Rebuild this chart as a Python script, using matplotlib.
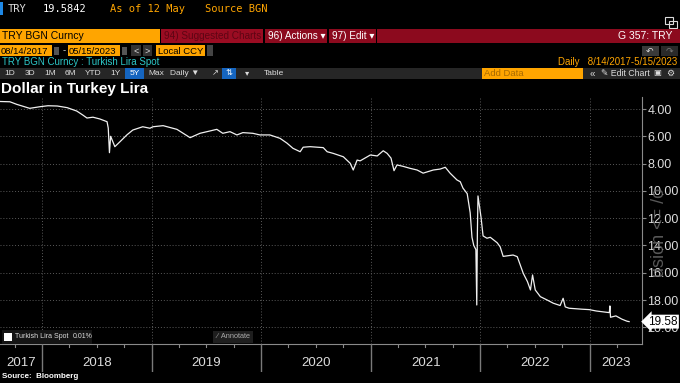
import matplotlib
matplotlib.use("Agg")
import matplotlib.pyplot as plt
from matplotlib.patches import Rectangle
import pandas as pd

plt.rcParams["font.family"] = ["Liberation Sans", "DejaVu Sans"]

# USD/TRY daily spot
dates = [
    "2017-08-14", "2017-09-15", "2017-10-08", "2017-11-20", "2017-12-25",
    "2018-01-20", "2018-02-20", "2018-03-25", "2018-04-26", "2018-05-16",
    "2018-05-30", "2018-06-19", "2018-07-12", "2018-08-05", "2018-08-09",
    "2018-08-13", "2018-08-17", "2018-08-31", "2018-09-17", "2018-10-10",
    "2018-10-30", "2018-12-02", "2018-12-26", "2019-01-05", "2019-02-08",
    "2019-03-26", "2019-05-09", "2019-06-11", "2019-07-14", "2019-08-06",
    "2019-08-26", "2019-09-19", "2019-10-12", "2019-11-01", "2019-12-04",
    "2019-12-28", "2020-01-30", "2020-03-04", "2020-03-27", "2020-04-16",
    "2020-05-10", "2020-05-20", "2020-06-12", "2020-07-26", "2020-08-08",
    "2020-08-28", "2020-10-01", "2020-10-24", "2020-11-03", "2020-11-16",
    "2020-11-26", "2020-12-30", "2021-01-22", "2021-02-11", "2021-02-24",
    "2021-03-09", "2021-03-19", "2021-03-29", "2021-04-18", "2021-05-12",
    "2021-06-04", "2021-06-24", "2021-07-28", "2021-08-20", "2021-09-06",
    "2021-09-22", "2021-10-15", "2021-10-26", "2021-11-04", "2021-11-18",
    "2021-11-28", "2021-12-04", "2021-12-10", "2021-12-17", "2021-12-20",
    "2021-12-22", "2021-12-24", "2022-01-03", "2022-01-10", "2022-01-23",
    "2022-02-03", "2022-02-26", "2022-03-08", "2022-03-18", "2022-04-20",
    "2022-05-04", "2022-05-14", "2022-05-24", "2022-06-07", "2022-06-17",
    "2022-06-24", "2022-07-03", "2022-07-20", "2022-08-12", "2022-09-01",
    "2022-09-24", "2022-10-04", "2022-10-11", "2022-10-24", "2022-12-06",
    "2022-12-30", "2023-01-22", "2023-02-20", "2023-03-07", "2023-03-09",
    "2023-03-11", "2023-03-29", "2023-04-18", "2023-05-05", "2023-05-12",
]
values = [
    3.45, 3.47, 3.66, 3.95, 3.83,
    3.76, 3.78, 3.90, 4.15, 4.44,
    4.66, 4.60, 4.73, 4.93, 5.40,
    7.20, 6.00, 6.76, 6.40, 5.90,
    5.54, 5.30, 5.41, 5.30, 5.22,
    5.49, 6.10, 5.78, 5.61, 5.49,
    5.78, 5.66, 5.90, 5.73, 5.78,
    5.90, 5.90, 6.15, 6.50, 6.88,
    7.13, 6.80, 6.76, 6.83, 7.13,
    7.25, 7.50, 7.98, 8.47, 7.74,
    7.80, 7.37, 7.44, 7.06, 7.25,
    7.60, 8.52, 8.10, 8.20, 8.35,
    8.47, 8.70, 8.47, 8.40, 8.27,
    8.70, 9.20, 9.33, 9.80, 10.20,
    11.60, 13.40, 14.00, 14.30, 18.36,
    13.10, 10.37, 11.90, 13.30, 13.47,
    13.40, 13.80, 14.10, 14.80, 14.70,
    14.82, 15.43, 16.04, 16.65, 17.26,
    16.16, 17.26, 17.75, 18.00, 18.23,
    18.40, 17.87, 18.50, 18.60, 18.67,
    18.70, 18.80, 18.88, 18.92, 18.43,
    19.26, 19.16, 19.40, 19.55, 19.58,
]
years = [2017, 2018, 2019, 2020, 2021, 2022, 2023]
y_ticks = [4, 6, 8, 10, 12, 14, 16, 18, 20]
last_value = 19.58

ORANGE = "#ffa500"
RED = "#8c0a1e"
DARK_RED_TXT = "#5e0514"
GRID = "#5a5a5a"
AXIS = "#8a8a8a"
TXT = "#dcdcdc"
CYAN = "#2cc7c7"
BLUE = "#1565c0"
BAR = "#262626"

W, H = 680, 383


def fx(x):
    return x / W


def fy(y):
    return 1 - y / H


fig = plt.figure(figsize=(W / 100, H / 100), dpi=100, facecolor="black")


def box(x0, y0, x1, y1, color, edge="none"):
    fig.patches.append(Rectangle((fx(x0), fy(y1)), (x1 - x0) / W, (y1 - y0) / H,
                                 transform=fig.transFigure, facecolor=color,
                                 edgecolor=edge, linewidth=0.8, zorder=0))


def label(x, y, s, color, size, ha="left", **kw):
    fig.text(fx(x), fy(y), s, color=color, fontsize=size, ha=ha, va="center", **kw)


# -- header rows -------------------------------------------------------------
mono = ["DejaVu Sans Mono"]
box(0, 2, 3, 15, "#1e88e5")
label(8, 9, "TRY", TXT, 7.5, family=mono)
label(43, 9, "19.5842", "white", 7.5, family=mono)
label(110, 9, "As of 12 May", ORANGE, 7.5, family=mono)
label(205, 9, "Source BGN", ORANGE, 7.5, family=mono)
# pop-out icon
box(665, 17, 673, 24, "none", edge=TXT)
box(669, 21, 677, 28, "none", edge=TXT)

box(0, 29, 160, 43, ORANGE)
label(2, 36, "TRY BGN Curncy", "black", 7.5)
box(161, 29, 263, 43, "#9a0c22")
label(164, 36, "94) Suggested Charts", DARK_RED_TXT, 7.2)
box(265, 29, 327, 43, RED)
label(268, 36, "96) Actions \u25be", "white", 7.2)
box(329, 29, 376, 43, RED)
label(332, 36, "97) Edit \u25be", "white", 7.2)
box(377, 29, 680, 43, RED)
label(672, 36, "G 357: TRY", "white", 7.5, ha="right")

box(0, 45, 52, 56, ORANGE)
label(1, 51, "08/14/2017", "black", 6.8)
box(54, 47, 59, 55, "#555555")
label(64, 51, "-", TXT, 6.8, ha="center")
box(68, 45, 120, 56, ORANGE)
label(69, 51, "05/15/2023", "black", 6.8)
box(122, 47, 127, 55, "#555555")
box(131, 45, 141, 56, "#333333")
label(136, 51, "<", TXT, 6.5, ha="center")
box(143, 45, 152, 56, "#333333")
label(147.5, 51, ">", TXT, 6.5, ha="center")
box(156, 45, 205, 56, ORANGE)
label(158, 51, "Local CCY", "black", 6.8)
box(207, 45, 213, 56, "#444444")
box(642, 46, 659, 56, "#3a3a3a")
label(650, 51, "\u21b6", TXT, 6.5, ha="center")
box(661, 46, 678, 56, "#2a2a2a")
label(669, 51, "\u21b7", "#777777", 6.5, ha="center")

label(2, 62, "TRY BGN Curncy : Turkish Lira Spot", CYAN, 7)
label(677, 62, "Daily   8/14/2017-5/15/2023", ORANGE, 7, ha="right")

box(0, 68, 680, 79, BAR)
for txt, cx in [("1D", 10), ("3D", 30), ("1M", 50), ("6M", 70), ("YTD", 93),
                ("1Y", 115), ("Max", 156), ("Daily \u25bc", 185), ("\u25be", 247),
                ("Table", 274)]:
    label(cx, 73.5, txt, TXT, 6, ha="center")
box(125, 68, 144, 79, BLUE)
label(134.5, 73.5, "5Y", "white", 6, ha="center")
label(215, 73.5, "\u2197", TXT, 6, ha="center")
box(222, 68, 236, 79, BLUE)
label(229, 73.5, "\u21c5", "white", 6, ha="center")
box(482, 68, 583, 79, ORANGE)
label(484, 73.5, "Add Data", "#a86a00", 6.8)
label(592, 73.5, "\u00ab", TXT, 7, ha="center")
label(601, 73.5, "\u270e Edit Chart", TXT, 6.3)
label(657, 73.5, "\u25a3", TXT, 6, ha="center")
label(670, 73.5, "\u2699", TXT, 6.5, ha="center")

label(1, 89, "Dollar in Turkey Lira", "white", 11, weight="bold")

# -- main chart --------------------------------------------------------------
t = pd.to_datetime(dates)
x_min = pd.Timestamp("2017-08-13")
x_max = pd.Timestamp("2023-06-24")
y_lo, y_hi = 21.22, 3.12

ax = fig.add_axes([0, fy(344), 642 / W, (344 - 97) / H])
ax.set_facecolor("black")
ax.plot(t, values, color="#f0f0f0", linewidth=0.9, zorder=3)
ax.set_xlim(x_min, x_max)
ax.set_ylim(y_lo, y_hi)

year_starts = [pd.Timestamp(f"{y}-01-01") for y in years[1:]]
for ys in year_starts:
    ax.axvline(ys, color=GRID, linestyle=(0, (1, 2)), linewidth=0.7, zorder=1)
for v in y_ticks:
    ax.axhline(v, color=GRID, linestyle=(0, (1, 2)), linewidth=0.7, zorder=1)

ax.yaxis.tick_right()
ax.set_yticks(y_ticks)
ax.set_yticklabels([f"{v:.2f}" for v in y_ticks])
ax.tick_params(axis="y", colors=AXIS, labelcolor=TXT, labelsize=9,
               length=3, width=0.8, pad=1)
ax.set_xticks([])
for side in ["top", "left"]:
    ax.spines[side].set_visible(False)
ax.spines["right"].set_color(AXIS)
ax.spines["bottom"].set_color(AXIS)

# faint watermark on the right (it sits over the tick labels in the original)
fig.text(fx(659), fy(232), "usion <= /o", rotation=90, color="#6e6e6e",
         fontsize=13, ha="center", va="center", alpha=0.8, zorder=0)

# last value tag
ax.text(1.01, (y_lo - last_value) / (y_lo - y_hi), f"{last_value:.2f}",
        transform=ax.transAxes, color="black", fontsize=8.5, va="center",
        ha="left", zorder=6, clip_on=False,
        bbox=dict(boxstyle="larrow,pad=0.08", facecolor="white", edgecolor="none"))

# legend and annotate button inside the plot
box(2, 330, 92, 344, "#141414")
box(4, 333, 12, 341, "white")
label(15, 337, "Turkish Lira Spot", TXT, 5)
label(73, 337, "0.01%", TXT, 5)
box(213, 331, 253, 343, "#1e1e1e")
label(217, 337, "\u2215  Annotate", "#aaaaaa", 5.3)

# -- date band under the chart ----------------------------------------------
band = fig.add_axes([0, fy(372), 642 / W, (372 - 344) / H])
band.set_facecolor("black")
band.set_xlim(x_min, x_max)
band.set_ylim(0, 1)
band.axis("off")
for ys in year_starts:
    band.axvline(ys, color="#7a7a7a", linewidth=1.0)
quarters = pd.date_range("2017-10-01", "2023-04-01", freq="QS")
for q in quarters:
    if q.month != 1:
        band.plot([q, q], [1, 0.88], color=AXIS, linewidth=0.8)
for y in years:
    lo = max(pd.Timestamp(f"{y}-01-01"), x_min)
    hi = min(pd.Timestamp(f"{y + 1}-01-01"), x_max)
    mid = lo + (hi - lo) / 2
    band.text(mid, 0.33, str(y), color=TXT, fontsize=9.5, ha="center", va="center")

label(2, 377, "Source:  Bloomberg", "white", 5.8, weight="bold")

fig.savefig("out.png", dpi=100, facecolor="black")
